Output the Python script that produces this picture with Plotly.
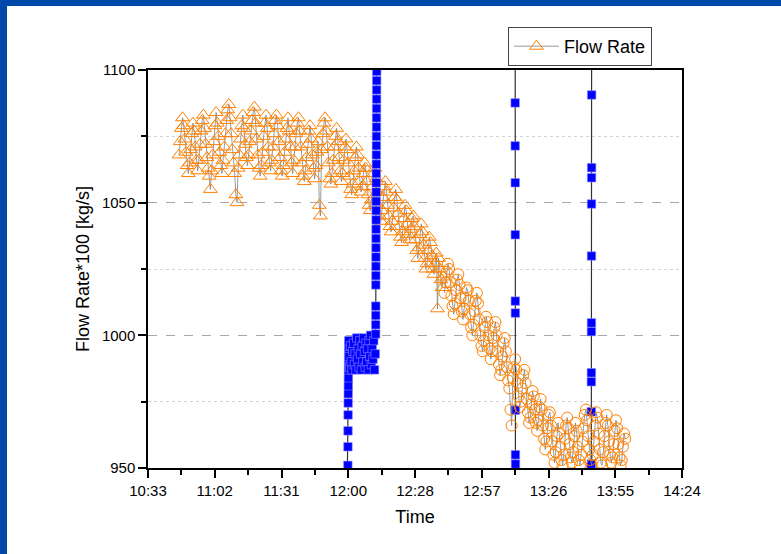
import pandas as pd
import plotly.graph_objects as go

DAY = "2024-01-01 "

# ---- Flow Rate (orange), logged every 30 s ----
SAMPLE_SEC = 30
TRI_START = "10:47:00"
flow_tri = [
    1068, 1073, 1078, 1082, 1079, 1074, 1069, 1064, 1061, 1065, 1070, 1076, 1080, 1077, 1071, 1066, 1062, 1066, 1072, 1077,
    1081, 1083, 1078, 1072, 1067, 1063, 1060, 1055, 1062, 1068, 1073, 1079, 1084, 1080, 1075, 1069, 1064, 1061, 1066, 1071,
    1076, 1081, 1085, 1087, 1082, 1076, 1070, 1065, 1061, 1053, 1050, 1063, 1068, 1074, 1079, 1083, 1078, 1072, 1067, 1064,
    1068, 1073, 1077, 1081, 1084, 1086, 1080, 1074, 1068, 1063, 1060, 1064, 1069, 1075, 1080, 1083, 1078, 1071, 1065, 1062,
    1066, 1071, 1076, 1081, 1083, 1079, 1073, 1067, 1062, 1060, 1064, 1069, 1074, 1078, 1082, 1077, 1071, 1065, 1061, 1066,
    1071, 1076, 1080, 1082, 1077, 1071, 1065, 1060, 1058, 1062, 1067, 1072, 1077, 1079, 1074, 1068, 1063, 1059, 1064, 1069,
    1073, 1049, 1045, 1070, 1076, 1080, 1082, 1077, 1071, 1065, 1059, 1057, 1061, 1066, 1071, 1075, 1078, 1073, 1067, 1062,
    1058, 1061, 1066, 1071, 1074, 1070, 1065, 1060, 1055, 1053, 1057, 1062, 1067, 1071, 1068, 1063, 1058, 1054, 1056, 1061,
    1065, 1063, 1058, 1053, 1049, 1047, 1051, 1056, 1061, 1063, 1059, 1054, 1049, 1045, 1043, 1047, 1052, 1056, 1058, 1054,
    1049, 1045, 1041, 1039, 1043, 1048, 1052, 1055, 1051, 1046, 1041, 1037, 1035, 1039, 1044, 1049, 1047, 1042, 1038, 1036,
    1040, 1044, 1045, 1041, 1036, 1032, 1029, 1033, 1038, 1042, 1039, 1034, 1029, 1025, 1027, 1032, 1037, 1035, 1030, 1025,
    1023, 1027, 1031, 1010, 1029, 1025, 1021, 1018, 1022,
]
CIR_START = "12:41:30"
flow_cir = [
    1016, 1020, 1024, 1027, 1025, 1020, 1015, 1011, 1008, 1012, 1017, 1021, 1023, 1019, 1014, 1009, 1006, 1010, 1014, 1018,
    1017, 1013, 1008, 1003, 1000, 1004, 1009, 1013, 1016, 1012, 1006, 1000, 996, 994, 998, 1003, 1007, 1005, 1000, 995,
    991, 994, 999, 1003, 1005, 1000, 994, 989, 985, 987, 992, 997, 999, 994, 988, 983, 980, 972, 966, 984,
    988, 991, 987, 982, 977, 973, 975, 980, 985, 987, 982, 976, 971, 967, 969, 974, 979, 977, 972, 967,
    964, 968, 973, 976, 972, 966, 961, 957, 960, 965, 970, 971, 966, 960, 955, 952, 956, 962, 967, 963,
    958, 953, 951, 955, 961, 966, 969, 965, 959, 954, 952, 956, 962, 967, 964, 958, 953, 951, 955, 960,
    965, 970, 972, 968, 962, 957, 953, 951, 955, 960, 966, 971, 969, 963, 957, 952, 951, 956, 962, 967,
    970, 966, 960, 955, 952, 954, 959, 964, 968, 965, 959, 954, 951, 953, 958, 963, 961,
]

# ---- second signal (blue), bursts: (start time, step in s, values) ----
ramp1 = [951, 958, 964, 970, 974.5, 978, 981, 984, 987, 990, 993, 996, 998]
block = [992, 988, 996, 990, 987, 994, 997, 989, 993, 987,
         999, 991, 995, 988, 998, 993, 987, 996, 990, 999, 994, 988,
         997, 990, 995, 987, 998, 992,
         1000, 989, 995, 991, 998, 987, 993]
ramp2 = [1000.5, 1004, 1007.5, 1011, 1019, 1022.5, 1026, 1029.5, 1033, 1036.5,
         1040, 1043.5, 1047, 1050.5, 1054, 1057.5, 1061, 1064.5, 1068, 1071.5,
         1075, 1078.5, 1082, 1085.5, 1089, 1092.5, 1096, 1099.5, 1150]
drop = [1150, 1087.6, 1071.4, 1057.5, 1037.9, 1012.9, 1008.4, 971.8, 955, 951.5, 900]
rise = [900, 951.5, 971.2, 982.5, 985.9, 1001.4, 1004.7, 1029.9, 1049.5, 1059.4,
        1063.2, 1090.6, 1150]
signal_bursts = [
    ("11:59:00", 50, [900]),
    ("11:59:50", 2, ramp1),
    ("12:00:20", 20, block),
    ("12:11:50", 1, ramp2),
    ("13:12:00", 1, drop),
    ("13:44:50", 1, rise),
    ("14:10:00", 1, [1150]),
]

x_ticks_start = "10:33:36"
x_range = ["10:33:36", "14:24:00"]
y_range = [950, 1100]


def series_times(start, n, step):
    return pd.date_range(DAY + start, periods=n, freq=f"{step}s")


tri_t = series_times(TRI_START, len(flow_tri), SAMPLE_SEC)
cir_t = series_times(CIR_START, len(flow_cir), SAMPLE_SEC)
sig_t, sig_v = [], []
for start, step, vals in signal_bursts:
    sig_t.extend(series_times(start, len(vals), step))
    sig_v.extend(vals)

ORANGE = "#FF8000"
GRAYLINE = "#808080"
FONT = "Liberation Sans, Arial, sans-serif"

fig = go.Figure()
fig.add_trace(go.Scatter(
    x=tri_t, y=flow_tri, mode="lines+markers", name="Flow Rate",
    line=dict(color=GRAYLINE, width=0.8),
    marker=dict(symbol="triangle-up-open", size=12, color=ORANGE, line=dict(width=1, color=ORANGE)),
))
fig.add_trace(go.Scatter(
    x=sig_t, y=sig_v, mode="lines+markers", name="signal", showlegend=False,
    line=dict(color="#333333", width=1.2),
    marker=dict(symbol="square", size=8.5, color="#0000FF", line=dict(width=0.6, color="#8c8cff")),
))
fig.add_trace(go.Scatter(
    x=cir_t, y=flow_cir, mode="lines+markers", name="Flow Rate", showlegend=False,
    line=dict(color=GRAYLINE, width=0.8),
    marker=dict(symbol="circle-open", size=11, color=ORANGE, line=dict(width=1, color=ORANGE)),
))

L, R, T, B = 148, 99, 70, 86
W, H = 781, 554
pw, ph = W - L - R, H - T - B
BLUE = "#0049AA"
shapes = [
    dict(type="rect", xref="paper", yref="paper", x0=-L / pw, x1=-(L - 7) / pw,
         y0=-B / ph, y1=1 + T / ph, fillcolor=BLUE, line=dict(width=0), layer="above"),
    dict(type="rect", xref="paper", yref="paper", x0=-L / pw, x1=1 + R / pw,
         y0=1 + (T - 6) / ph, y1=1 + T / ph, fillcolor=BLUE, line=dict(width=0), layer="above"),
]

fig.update_layout(
    width=W, height=H, autosize=False,
    margin=dict(l=L, r=R, t=T, b=B),
    paper_bgcolor="white", plot_bgcolor="white",
    font=dict(family=FONT, size=15, color="black"),
    shapes=shapes,
    showlegend=True,
    legend=dict(x=(652 - L) / pw, xanchor="right", y=1 + (T - 27) / ph, yanchor="top",
                bgcolor="white", bordercolor="#444", borderwidth=1,
                font=dict(size=18, family=FONT), itemwidth=45,
                tracegroupgap=0),
    xaxis=dict(
        type="date", range=[DAY + x_range[0], DAY + x_range[1]],
        tickmode="linear", tick0=DAY + x_ticks_start, dtick=1728000,
        tickformat="%H:%M", ticks="outside", ticklen=8, tickwidth=1.5, tickcolor="black",
        showline=True, linecolor="black", linewidth=1.5, mirror=True,
        showgrid=False, zeroline=False,
        minor=dict(dtick=864000, ticks="outside", ticklen=5, tickwidth=1.5, tickcolor="black", showgrid=False),
        title=dict(text="Time", font=dict(size=18), standoff=13),
        tickfont=dict(size=15),
    ),
    yaxis=dict(
        range=y_range, tickmode="linear", tick0=950, dtick=50,
        ticks="outside", ticklen=8, tickwidth=1.5, tickcolor="black",
        showline=True, linecolor="black", linewidth=1.5, mirror=True,
        showgrid=True, gridcolor="#a8a8a8", griddash="dash", gridwidth=1, zeroline=False,
        minor=dict(dtick=25, ticks="outside", ticklen=5, tickwidth=1.5, tickcolor="black",
                   showgrid=True, gridcolor="#d4d4d4", griddash="dot", gridwidth=1),
        title=dict(text="Flow Rate*100 [kg/s]", font=dict(size=18), standoff=8),
        tickfont=dict(size=15),
    ),
)

fig.write_html("out.html", config={"displayModeBar": False})
